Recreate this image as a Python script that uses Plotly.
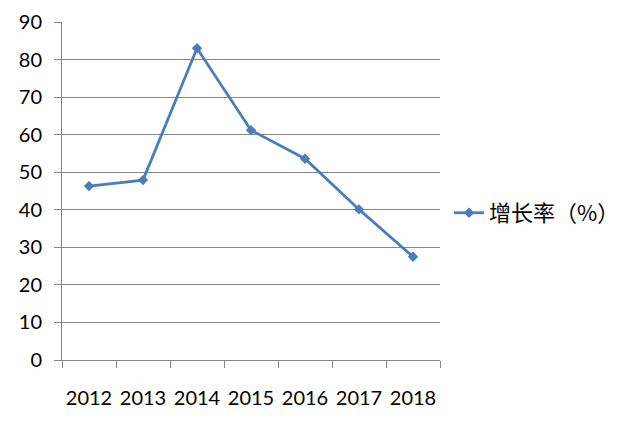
import plotly.graph_objects as go

years = ["2012", "2013", "2014", "2015", "2016", "2017", "2018"]
growth = [46.3, 47.9, 83.0, 61.2, 53.6, 40.1, 27.5]
series_name = "增长率（%）"
y_ticks = [0, 10, 20, 30, 40, 50, 60, 70, 80, 90]

fig = go.Figure()
fig.add_trace(go.Scatter(
    x=years, y=growth, name=series_name, mode="lines+markers",
    line=dict(color="#4A7EBB", width=2.8),
    marker=dict(symbol="diamond", size=8, color="#4A7EBB"),
    showlegend=True,
))

font_family = "Lato, 'Noto Sans CJK SC', sans-serif"
# page body has an 8px default margin; compensate
W, H = 624, 411
L, T, PW, PH = 54, 14, 378, 338
fig.update_layout(
    width=W, height=H,
    margin=dict(l=L, r=W - L - PW, t=T, b=H - T - PH, autoexpand=False),
    paper_bgcolor="white", plot_bgcolor="white",
    font=dict(family=font_family, size=20, color="#000000"),
    showlegend=True,
    legend=dict(x=(449 - 8 - L) / PW, xanchor="left", y=0.435, yanchor="middle",
                font=dict(size=22, family="'Noto Sans CJK SC', sans-serif"),
                itemwidth=30, bgcolor="rgba(0,0,0,0)"),
    xaxis=dict(type="category", tickson="boundaries", ticks="outside",
               ticklen=7, tickcolor="#868686", showline=True, linecolor="#868686",
               linewidth=1, showgrid=False, range=[-0.5, 6.5], tickangle=0,
               tickfont=dict(size=20), ticklabelstandoff=20, automargin=False),
    yaxis=dict(range=[0, 90], tickvals=y_ticks, ticks="outside", ticklen=7,
               tickcolor="#868686", showline=True, linecolor="#868686", linewidth=1,
               showgrid=True, gridcolor="#868686", gridwidth=1, zeroline=False,
               tickfont=dict(size=20), ticklabelstandoff=8, automargin=False),
)
fig.write_html("out.html")
